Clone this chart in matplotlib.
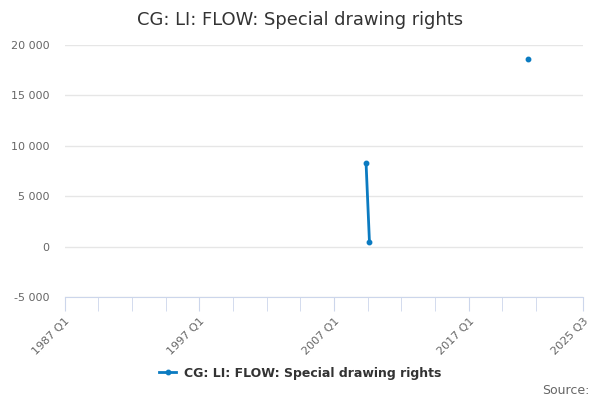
import numpy as np
import matplotlib
matplotlib.use('Agg')
import matplotlib.pyplot as plt

# Quarterly periods from 1987 Q1 to 2025 Q3
start_year = 1987
n_quarters = 155
period_labels = [f'{start_year + i // 4} Q{i % 4 + 1}' for i in range(n_quarters)]

# Only a few quarters carry values (rest are empty)
value_periods = ['2009 Q2', '2009 Q3', '2021 Q2']
value_amounts = [8250, 480, 18650]

series_name = 'CG: LI: FLOW: Special drawing rights'
tick_labels = ['1987 Q1', '1997 Q1', '2007 Q1', '2017 Q1', '2025 Q3']
y_ticks = [-5000, 0, 5000, 10000, 15000, 20000]

values = np.full(n_quarters, np.nan)
for p, v in zip(value_periods, value_amounts):
    values[period_labels.index(p)] = v
# points sit in the middle of their quarter
x = np.arange(n_quarters) + 0.5

fig = plt.figure(figsize=(6, 4), dpi=100)
ax = fig.add_axes([0.108, 0.2575, 0.864, 0.63])

colour = '#0b7bc1'
ax.plot(x, values, color=colour, lw=2, marker='o', ms=3.2, label=series_name)

ax.set_xlim(0, n_quarters - 1)
ax.set_ylim(-5000, 20000)
ax.set_yticks(y_ticks)
ax.set_yticklabels([f'{v:,}'.replace(',', ' ') for v in y_ticks])
ax.grid(axis='y', color='#e6e6e6', lw=1)
ax.set_axisbelow(True)

major = [period_labels.index(t) for t in tick_labels]
ax.set_xticks(major)
ax.set_xticklabels(tick_labels, rotation=45, ha='right', rotation_mode='anchor')
ax.set_xticks(np.arange(0, n_quarters - 10, 10), minor=True)

for s in ['top', 'right', 'left']:
    ax.spines[s].set_visible(False)
ax.spines['bottom'].set_color('#ccd6eb')
ax.tick_params(axis='x', which='both', length=10, color='#ccd6eb', labelcolor='#666666', labelsize=8)
ax.tick_params(axis='y', length=0, labelcolor='#666666', labelsize=8, pad=11)

fig.suptitle('CG: LI: FLOW: Special drawing rights', y=0.972, fontsize=12.9, color='#333333')
fig.legend(loc='center', bbox_to_anchor=(0.5, 0.067), frameon=False,
           prop={'size': 9, 'weight': 'bold'}, labelcolor='#333333',
           handlelength=1.4, handletextpad=0.6)
fig.text(0.982, 0.025, 'Source:', ha='right', va='center', fontsize=9, color='#666666')

fig.savefig('out.png', dpi=100)
